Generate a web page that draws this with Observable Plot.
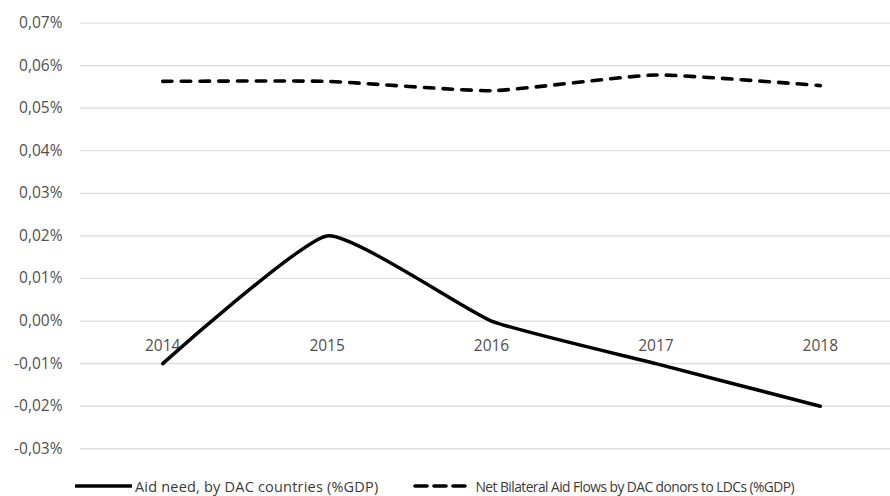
<!DOCTYPE html>
<html>
<head>
<meta charset="utf-8">
<script src="https://cdn.jsdelivr.net/npm/d3@7"></script>
<script src="https://cdn.jsdelivr.net/npm/@observablehq/plot@0.6"></script>
<style>
  html, body { margin: 0; padding: 0; background: #fff; }
  #chart svg { display: block; }
  .legend {
    display: flex; align-items: center; height: 24px; margin-top: 4px;
    font-family: "Open Sans", sans-serif; color: #3a3a3a; white-space: nowrap;
  }
  .legend .item { display: flex; align-items: center; }
  .legend svg { margin-right: 3px; }
  #lab0 { font-size: 14.5px; letter-spacing: 0.2px; }
  #lab1 { font-size: 13.8px; letter-spacing: -0.55px; margin-left: 5px; }
</style>
</head>
<body>
<div id="chart"></div>
<div class="legend">
  <div class="item" style="margin-left:75px">
    <svg width="57" height="10"><line x1="1" y1="5" x2="56" y2="5" stroke="#000" stroke-width="3.6" stroke-linecap="round"/></svg>
    <span id="lab0"></span>
  </div>
  <div class="item" style="margin-left:35px">
    <svg width="54" height="10"><line x1="2" y1="5" x2="52" y2="5" stroke="#000" stroke-width="3.6" stroke-linecap="round" stroke-dasharray="12,7"/></svg>
    <span id="lab1"></span>
  </div>
</div>
<script>
// Years on the horizontal axis
const years = [2014, 2015, 2016, 2017, 2018];
// Aid need, by DAC countries (% of GDP)
const aidNeed = [-0.01, 0.02, 0.00, -0.01, -0.02];
// Net bilateral aid flows by DAC donors to LDCs (% of GDP)
const netFlows = [0.0563, 0.0563, 0.0541, 0.0578, 0.0553];
// Series names
const seriesNames = ["Aid need, by DAC countries (%GDP)", "Net Bilateral Aid Flows by DAC donors to LDCs (%GDP)"];
// Value-axis ticks
const yTicks = [-0.03, -0.02, -0.01, 0.00, 0.01, 0.02, 0.03, 0.04, 0.05, 0.06, 0.07];

const need = years.map((y, i) => ({year: y, value: aidNeed[i]}));
const flows = years.map((y, i) => ({year: y, value: netFlows[i]}));
const fmt = d => d.toFixed(2).replace(".", ",") + "%";
// gently smoothed line, like a spreadsheet "smoothed line" series
const smooth = d3.curveCardinal.tension(0.55);

const chart = Plot.plot({
  width: 890,
  height: 470,
  marginLeft: 80,
  marginRight: 0,
  marginTop: 22.5,
  marginBottom: 21.7,
  style: {fontFamily: "'Open Sans', sans-serif", background: "#fff"},
  x: {type: "linear", domain: [2013.5, 2018.5], range: [80, 902], axis: null},
  y: {domain: [-0.03, 0.07], axis: null, label: null},
  marks: [
    Plot.ruleY(yTicks, {stroke: "#d9d9d9", strokeWidth: 1.2}),
    Plot.axisY({ticks: yTicks, tickFormat: fmt, tickSize: 0, tickPadding: 18,
      fontSize: 15.5, fill: "#4f4f4f", textStroke: "none", label: null}),
    Plot.text(years, {x: d => d, y: 0, text: d => String(d), dy: 25,
      fontSize: 15.5, fill: "#4f4f4f"}),
    Plot.line(need, {x: "year", y: "value", curve: smooth,
      stroke: "#000", strokeWidth: 3.5}),
    Plot.line(flows, {x: "year", y: "value", curve: smooth,
      stroke: "#000", strokeWidth: 3.6, strokeDasharray: "9.5,9.2", strokeLinecap: "round"})
  ]
});
document.getElementById("chart").appendChild(chart);
document.getElementById("lab0").textContent = seriesNames[0];
document.getElementById("lab1").textContent = seriesNames[1];
</script>
</body>
</html>
